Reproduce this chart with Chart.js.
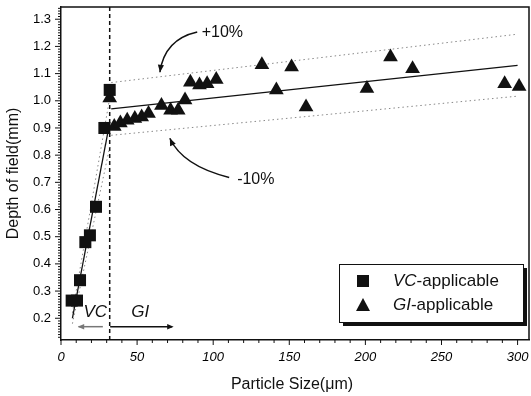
<!DOCTYPE html>
<html>
<head>
<meta charset="utf-8">
<script src="https://cdn.jsdelivr.net/npm/chart.js@4.4.0/dist/chart.umd.min.js"></script>
<style>
html, body { margin: 0; padding: 0; background: #fff; }
#wrap { width: 531px; height: 396px; }
</style>
</head>
<body>
<div id="wrap"><canvas id="depthChart" width="531" height="396"></canvas></div>
<script>
'use strict';

// VC-applicable points (squares)
var vc_size = [7, 10.5, 12.5, 16, 19, 23, 28.5, 32];
var vc_depth = [0.265, 0.265, 0.34, 0.48, 0.505, 0.61, 0.9, 1.04];

// GI-applicable points (triangles)
var gi_size = [32, 35, 39, 43.5, 48.5, 53, 57.5, 66, 72, 77, 81.5, 85, 91, 96, 102,
               132, 141.5, 151.5, 161, 201, 216.5, 231, 291.5, 301];
var gi_depth = [1.01, 0.905, 0.918, 0.928, 0.935, 0.94, 0.953, 0.983, 0.965, 0.965, 1.003,
                1.068, 1.058, 1.063, 1.078, 1.133, 1.04, 1.124, 0.977, 1.045, 1.161, 1.118, 1.063, 1.053];

// fitted lines and the +/-10% bands
var vc_fit_x = [7.5, 32];
var vc_fit_y = [0.2, 0.92];
var vc_up_y = [0.22, 1.01];
var vc_low_y = [0.18, 0.83];

var gi_fit_x = [33, 300];
var gi_fit_y = [0.97, 1.13];
var gi_up_y = [1.067, 1.245];
var gi_low_y = [0.873, 1.017];

// VC / GI boundary
var boundary_x = 32;

// axes
var x_min = 0, x_max = 307.5;
var y_min = 0.12, y_max = 1.345;
var x_tick_labels = [0, 50, 100, 150, 200, 250, 300];
var y_tick_labels = [0.2, 0.3, 0.4, 0.5, 0.6, 0.7, 0.8, 0.9, 1.0, 1.1, 1.2, 1.3];

function pts(xs, ys) {
    var out = [];
    for (var i = 0; i < xs.length; ++i) {
        out.push({ x: xs[i], y: ys[i] });
    }
    return out;
}

function lineSet(xs, ys, color, width, dash) {
    return {
        type: 'line',
        data: pts(xs, ys),
        borderColor: color,
        borderWidth: width,
        borderDash: dash,
        pointRadius: 0,
        fill: false,
        tension: 0
    };
}

var FONT = '"Liberation Sans", Arial, sans-serif';

function arrowHead(ctx, x1, y1, x2, y2, size) {
    var a = Math.atan2(y2 - y1, x2 - x1);
    ctx.beginPath();
    ctx.moveTo(x2, y2);
    ctx.lineTo(x2 - size * Math.cos(a - 0.4), y2 - size * Math.sin(a - 0.4));
    ctx.lineTo(x2 - size * Math.cos(a + 0.4), y2 - size * Math.sin(a + 0.4));
    ctx.closePath();
    ctx.fill();
}

var decorPlugin = {
    id: 'decor',
    afterDraw: function (chart) {
        var ctx = chart.ctx;
        var xs = chart.scales.x, ys = chart.scales.y;
        var area = chart.chartArea;
        var px = function (v) { return xs.getPixelForValue(v); };
        var py = function (v) { return ys.getPixelForValue(v); };
        var i, v;

        ctx.save();
        ctx.strokeStyle = '#111';
        ctx.fillStyle = '#111';

        // top and right frame
        ctx.lineWidth = 1.5;
        ctx.beginPath();
        ctx.moveTo(area.left, area.top);
        ctx.lineTo(area.right, area.top);
        ctx.lineTo(area.right, area.bottom);
        ctx.stroke();

        // ticks, outward
        ctx.lineWidth = 1;
        ctx.beginPath();
        for (i = 0; i <= 30; ++i) {
            v = i * 10;
            var len = (v % 50 === 0) ? 5 : 3;
            ctx.moveTo(px(v), area.bottom);
            ctx.lineTo(px(v), area.bottom + len);
        }
        for (i = 13; i <= 134; ++i) {
            v = i / 100;
            var major = (i % 10 === 0);
            ctx.moveTo(area.left, py(v));
            ctx.lineTo(area.left - (major ? 6 : 3), py(v));
        }
        ctx.stroke();

        // +10% / -10% labels with curved arrows
        ctx.font = '16px ' + FONT;
        ctx.textAlign = 'center';
        ctx.textBaseline = 'middle';
        ctx.fillText('+10%', px(106), py(1.25));
        ctx.fillText('-10%', px(128), py(0.71));

        ctx.lineWidth = 1.5;
        var s = [px(89.5), py(1.253)], c = [px(68), py(1.226)], e = [px(65), py(1.105)];
        ctx.beginPath();
        ctx.moveTo(s[0], s[1]);
        ctx.quadraticCurveTo(c[0], c[1], e[0], e[1]);
        ctx.stroke();
        arrowHead(ctx, c[0], c[1], e[0], e[1], 8);

        s = [px(110.5), py(0.718)]; c = [px(80), py(0.76)]; e = [px(71.5), py(0.862)];
        ctx.beginPath();
        ctx.moveTo(s[0], s[1]);
        ctx.quadraticCurveTo(c[0], c[1], e[0], e[1]);
        ctx.stroke();
        arrowHead(ctx, c[0], c[1], e[0], e[1], 8);

        // VC / GI regions
        ctx.font = 'italic 17px ' + FONT;
        ctx.fillText('VC', px(22.5), py(0.223));
        ctx.fillText('GI', px(52), py(0.223));

        ctx.strokeStyle = '#777';
        ctx.fillStyle = '#777';
        ctx.beginPath();
        ctx.moveTo(px(27.5), py(0.169));
        ctx.lineTo(px(11.5), py(0.169));
        ctx.stroke();
        arrowHead(ctx, px(27.5), py(0.169), px(11), py(0.169), 7);

        ctx.strokeStyle = '#111';
        ctx.fillStyle = '#111';
        ctx.beginPath();
        ctx.moveTo(px(32.3), py(0.169));
        ctx.lineTo(px(73), py(0.169));
        ctx.stroke();
        arrowHead(ctx, px(32.3), py(0.169), px(74), py(0.169), 7);

        // axis titles
        ctx.font = '16px ' + FONT;
        ctx.fillText('Particle Size(\u03bcm)', 292, 385);
        ctx.save();
        ctx.translate(14, (area.top + area.bottom) / 2);
        ctx.rotate(-Math.PI / 2);
        ctx.fillText('Depth of field(mm)', 0, 0);
        ctx.restore();

        // legend box with shadow
        var bx = 339, by = 264, bw = 184, bh = 58;
        ctx.fillStyle = '#111';
        ctx.fillRect(bx + 4, by + 4, bw, bh);
        ctx.fillStyle = '#fff';
        ctx.fillRect(bx, by, bw, bh);
        ctx.strokeStyle = '#111';
        ctx.lineWidth = 1;
        ctx.strokeRect(bx + 0.5, by + 0.5, bw, bh);

        ctx.fillStyle = '#111';
        ctx.fillRect(357, 275, 12, 12);
        ctx.beginPath();
        ctx.moveTo(363, 298);
        ctx.lineTo(370, 311);
        ctx.lineTo(356, 311);
        ctx.closePath();
        ctx.fill();

        var rows = [['VC', '-applicable', 281], ['GI', '-applicable', 305]];
        ctx.textAlign = 'left';
        for (i = 0; i < rows.length; ++i) {
            ctx.font = 'italic 17px ' + FONT;
            ctx.fillText(rows[i][0], 393, rows[i][2]);
            var w = ctx.measureText(rows[i][0]).width;
            ctx.font = '17px ' + FONT;
            ctx.fillText(rows[i][1], 393 + w, rows[i][2]);
        }
        ctx.restore();
    }
};

var chartCanvas = document.getElementById('depthChart').getContext('2d');
var depthChart = new Chart(chartCanvas, {
    type: 'scatter',
    data: {
        datasets: [
            {
                label: 'VC-applicable',
                data: pts(vc_size, vc_depth),
                pointStyle: 'rect',
                pointRadius: 8.5,
                backgroundColor: '#111',
                borderColor: '#111',
                borderWidth: 0
            },
            {
                label: 'GI-applicable',
                data: pts(gi_size, gi_depth),
                pointStyle: 'triangle',
                pointRadius: 8.5,
                backgroundColor: '#111',
                borderColor: '#111',
                borderWidth: 0
            },
            lineSet(gi_fit_x, gi_fit_y, '#111', 1.3, []),
            lineSet(gi_fit_x, gi_up_y, '#888', 1, [1.5, 3]),
            lineSet(gi_fit_x, gi_low_y, '#888', 1, [1.5, 3]),
            lineSet(vc_fit_x, vc_fit_y, '#111', 1.3, []),
            lineSet(vc_fit_x, vc_up_y, '#888', 1, [1.5, 3]),
            lineSet(vc_fit_x, vc_low_y, '#888', 1, [1.5, 3]),
            lineSet([boundary_x, boundary_x], [y_min, y_max], '#111', 1.5, [4, 3])
        ]
    },
    options: {
        responsive: false,
        devicePixelRatio: 1,
        animation: false,
        layout: { autoPadding: false, padding: { left: 0, right: 2, top: 7, bottom: 0 } },
        plugins: {
            legend: { display: false },
            tooltip: { enabled: false }
        },
        scales: {
            x: {
                type: 'linear',
                min: x_min,
                max: x_max,
                afterBuildTicks: function (scale) {
                    scale.ticks = x_tick_labels.map(function (v) { return { value: v }; });
                },
                afterFit: function (scale) {
                    scale.height = 56;
                    scale.paddingLeft = 0;
                    scale.paddingRight = 0;
                },
                grid: { display: false, drawTicks: false },
                border: { display: true, color: '#111', width: 1.5 },
                ticks: {
                    padding: 10,
                    maxRotation: 0,
                    color: '#000',
                    font: { family: FONT, size: 13, style: 'italic' }
                }
            },
            y: {
                type: 'linear',
                min: y_min,
                max: y_max,
                afterBuildTicks: function (scale) {
                    scale.ticks = y_tick_labels.map(function (v) { return { value: v }; });
                },
                afterFit: function (scale) {
                    scale.width = 61;
                    scale.paddingTop = 0;
                    scale.paddingBottom = 0;
                },
                grid: { display: false, drawTicks: false },
                border: { display: true, color: '#111', width: 1.5 },
                ticks: {
                    padding: 10,
                    color: '#000',
                    font: { family: FONT, size: 13 },
                    callback: function (v) { return v.toFixed(1); }
                }
            }
        }
    },
    plugins: [decorPlugin]
});
</script>
</body>
</html>
